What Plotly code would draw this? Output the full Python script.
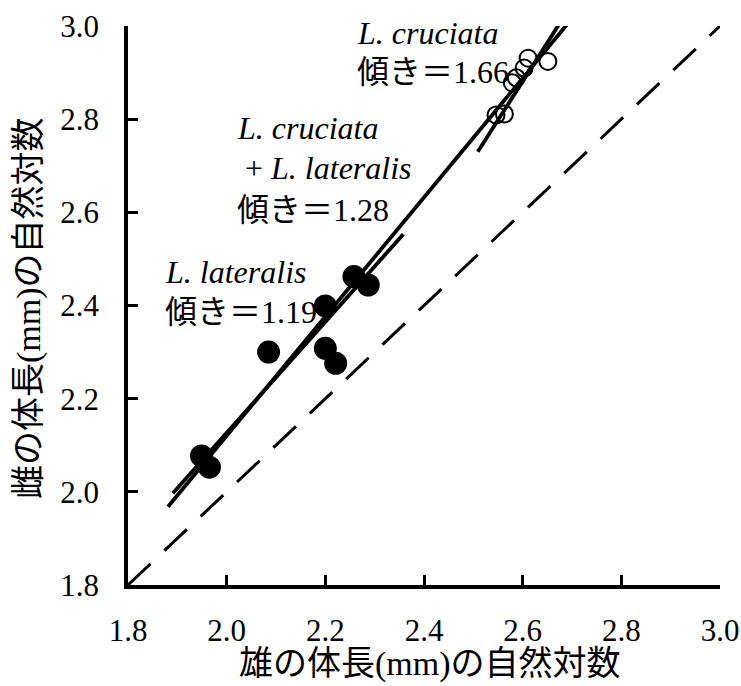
import plotly.graph_objects as go

# --- data ---
lateralis_x = [1.949, 1.965, 2.085, 2.200, 2.200, 2.221, 2.258, 2.287]
lateralis_y = [2.077, 2.053, 2.300, 2.399, 2.308, 2.276, 2.462, 2.444]

cruciata_x = [2.651, 2.611, 2.603, 2.587, 2.579, 2.563, 2.546]
cruciata_y = [2.924, 2.931, 2.910, 2.889, 2.878, 2.811, 2.809]

# regression line end points (x, y)
fit_lateralis_x = [1.891, 2.358]
fit_lateralis_y = [1.997, 2.553]
fit_combined_x = [1.881, 2.700]
fit_combined_y = [1.968, 3.016]
fit_cruciata_x = [2.509, 2.677]
fit_cruciata_y = [2.730, 3.009]
identity_xy = [1.8, 3.0]

ticks = [1.8, 2.0, 2.2, 2.4, 2.6, 2.8, 3.0]
tick_text = ["1.8", "2.0", "2.2", "2.4", "2.6", "2.8", "3.0"]

x_title = "雄の体長(mm)の自然対数"
y_title = "雌の体長(mm)の自然対数"

FONT = "Liberation Serif, Noto Sans CJK JP, serif"

L, R, T, B = 128, 21, 26, 101
W, H = 741, 686
PW, PH = W - L - R, H - T - B


def px2paper(px, py):
    return (px - L) / PW, ((H - py) - B) / PH


fig = go.Figure()
fig.add_trace(go.Scatter(x=identity_xy, y=identity_xy, mode="lines",
                         line=dict(color="black", width=3, dash="31px,19px"),
                         hoverinfo="skip"))
for fx, fy in [(fit_lateralis_x, fit_lateralis_y),
               (fit_combined_x, fit_combined_y),
               (fit_cruciata_x, fit_cruciata_y)]:
    fig.add_trace(go.Scatter(x=fx, y=fy, mode="lines",
                             line=dict(color="black", width=3.8)))
fig.add_trace(go.Scatter(x=cruciata_x, y=cruciata_y, mode="markers",
                         marker=dict(symbol="circle-open", size=17, color="black",
                                     line=dict(width=2, color="black"))))
fig.add_trace(go.Scatter(x=lateralis_x, y=lateralis_y, mode="markers",
                         marker=dict(symbol="circle", size=23, color="black")))

ann = [
    (355, 33, "<i>L. cruciata</i>"),
    (355, 72, "傾き＝1.66"),
    (235, 128, "<i>L. cruciata</i>"),
    (235, 168, " + <i>L. lateralis</i>"),
    (235, 210, "傾き＝1.28"),
    (163, 272, "<i>L. lateralis</i>"),
    (163, 312, "傾き＝1.19"),
]
for px, py, t in ann:
    ax, ay = px2paper(px, py)
    fig.add_annotation(x=ax, y=ay, xref="paper", yref="paper", text=t,
                       showarrow=False, xanchor="left", yanchor="middle",
                       font=dict(family=FONT, size=32, color="black"))

# axis titles
tx, ty = px2paper(430, 664)
fig.add_annotation(x=tx, y=ty, xref="paper", yref="paper", text=x_title,
                   showarrow=False, xanchor="center", yanchor="middle",
                   font=dict(family=FONT, size=34, color="black"))
tx, ty = px2paper(29, 308)
fig.add_annotation(x=tx, y=ty, xref="paper", yref="paper", text=y_title,
                   showarrow=False, xanchor="center", yanchor="middle",
                   textangle=-90,
                   font=dict(family=FONT, size=34, color="black"))

axis_common = dict(range=[1.8, 3.0], tickvals=ticks, ticktext=tick_text,
                   showgrid=False, zeroline=False, showline=True,
                   linecolor="black", linewidth=3.5, ticks="inside",
                   ticklen=10, tickwidth=3, tickcolor="black",
                   tickfont=dict(family=FONT, size=31, color="black"),
                   mirror=False, automargin=False, ticklabeloverflow="allow")

fig.update_layout(
    width=W, height=H, margin=dict(l=L, r=R, t=T, b=B, autoexpand=False),
    paper_bgcolor="white", plot_bgcolor="white", showlegend=False,
    xaxis=dict(**axis_common, ticklabelstandoff=15),
    yaxis=dict(**axis_common, ticklabelstandoff=19),
)

fig.write_html("out.html",
               config={"displayModeBar": False},
               post_script="document.body.style.margin='0px';")
